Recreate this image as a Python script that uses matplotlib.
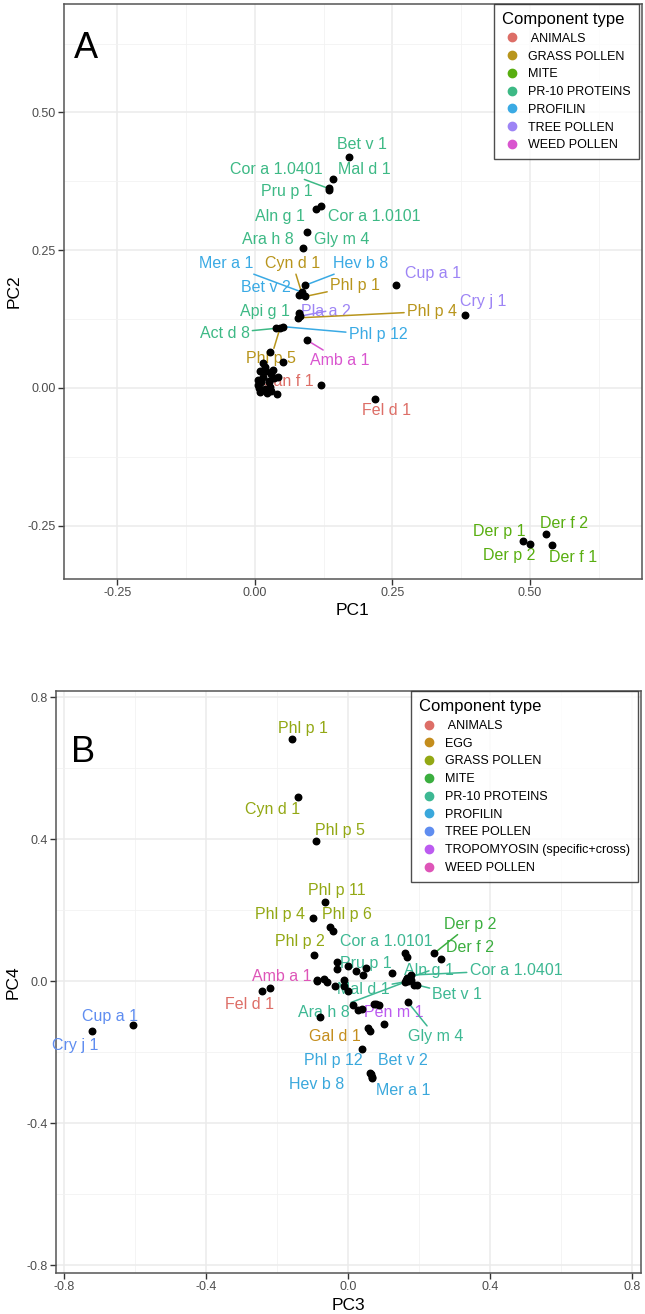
import matplotlib.pyplot as plt
from matplotlib.lines import Line2D

plt.rcParams['font.family'] = ['Liberation Sans', 'DejaVu Sans']

# ---------------- panel A data (PC1 / PC2) ----------------
a_names = ['Bet v 1', 'Mal d 1', 'Cor a 1.0401', 'Pru p 1', 'Aln g 1', 'Cor a 1.0101',
           'Ara h 8', 'Gly m 4', 'Mer a 1', 'Cyn d 1', 'Hev b 8', 'Bet v 2', 'Phl p 1',
           'Api g 1', 'Pla a 2', 'Phl p 4', 'Act d 8', 'Phl p 12', 'Phl p 5', 'Amb a 1',
           'Can f 1', 'Fel d 1', 'Cup a 1', 'Cry j 1', 'Der p 1', 'Der p 2', 'Der f 2', 'Der f 1']
a_types = ['PR-10 PROTEINS', 'PR-10 PROTEINS', 'PR-10 PROTEINS', 'PR-10 PROTEINS', 'PR-10 PROTEINS',
           'PR-10 PROTEINS', 'PR-10 PROTEINS', 'PR-10 PROTEINS', 'PROFILIN', 'GRASS POLLEN', 'PROFILIN',
           'PROFILIN', 'GRASS POLLEN', 'PR-10 PROTEINS', 'TREE POLLEN', 'GRASS POLLEN', 'PR-10 PROTEINS',
           'PROFILIN', 'GRASS POLLEN', 'WEED POLLEN', 'ANIMALS', 'ANIMALS', 'TREE POLLEN', 'TREE POLLEN',
           'MITE', 'MITE', 'MITE', 'MITE']
a_pc1 = [0.171, 0.142, 0.134, 0.134, 0.112, 0.120, 0.087, 0.094, 0.085, 0.086, 0.091, 0.080, 0.092,
         0.080, 0.082, 0.079, 0.038, 0.052, 0.046, 0.094, 0.025, 0.218, 0.256, 0.382,
         0.488, 0.501, 0.530, 0.541]
a_pc2 = [0.420, 0.380, 0.362, 0.359, 0.324, 0.330, 0.254, 0.283, 0.174, 0.170, 0.186, 0.168, 0.166,
         0.135, 0.130, 0.127, 0.108, 0.111, 0.109, 0.087, 0.010, -0.020, 0.186, 0.132,
         -0.279, -0.283, -0.266, -0.286]
# other (unlabelled) allergen components
a_other_pc1 = [0.028, 0.052, 0.018, 0.120, 0.010, 0.020, 0.015, 0.030, 0.005, 0.012, 0.025, 0.035,
               0.008, 0.018, 0.030, 0.040, 0.010, 0.022, 0.005, 0.028, 0.042, 0.033, 0.014]
a_other_pc2 = [0.065, 0.047, 0.038, 0.006, 0.030, 0.030, 0.020, 0.025, 0.015, 0.010, 0.012, 0.018,
               0.000, -0.003, -0.005, -0.012, -0.008, -0.010, 0.005, 0.002, 0.020, 0.032, 0.045]
a_types_order = ['ANIMALS', 'GRASS POLLEN', 'MITE', 'PR-10 PROTEINS', 'PROFILIN', 'TREE POLLEN', 'WEED POLLEN']
a_legend_labels = [' ANIMALS', 'GRASS POLLEN', 'MITE', 'PR-10 PROTEINS', 'PROFILIN', 'TREE POLLEN', 'WEED POLLEN']

# ---------------- panel B data (PC3 / PC4) ----------------
b_names = ['Phl p 1', 'Cyn d 1', 'Phl p 5', 'Phl p 11', 'Phl p 4', 'Phl p 6', 'Phl p 2',
           'Cor a 1.0101', 'Der p 2', 'Der f 2', 'Pru p 1', 'Aln g 1', 'Cor a 1.0401', 'Amb a 1',
           'Mal d 1', 'Bet v 1', 'Fel d 1', 'Ara h 8', 'Pen m 1', 'Gly m 4', 'Gal d 1',
           'Phl p 12', 'Bet v 2', 'Hev b 8', 'Mer a 1', 'Cup a 1', 'Cry j 1']
b_types = ['GRASS POLLEN'] * 7 + ['PR-10 PROTEINS', 'MITE', 'MITE', 'PR-10 PROTEINS', 'PR-10 PROTEINS',
           'PR-10 PROTEINS', 'WEED POLLEN', 'PR-10 PROTEINS', 'PR-10 PROTEINS', 'ANIMALS',
           'PR-10 PROTEINS', 'TROPOMYOSIN (specific+cross)', 'PR-10 PROTEINS', 'EGG',
           'PROFILIN', 'PROFILIN', 'PROFILIN', 'PROFILIN', 'TREE POLLEN', 'TREE POLLEN']
b_pc3 = [-0.158, -0.142, -0.092, -0.064, -0.099, -0.052, -0.097, 0.159, 0.242, 0.262, 0.049,
         0.167, 0.176, -0.088, 0.160, 0.195, -0.243, 0.176, 0.072, 0.169, 0.040,
         0.063, 0.068, 0.064, 0.068, -0.606, -0.722]
b_pc4 = [0.681, 0.519, 0.394, 0.222, 0.178, 0.153, 0.073, 0.078, 0.078, 0.061, 0.036,
         0.008, 0.017, 0.003, -0.002, -0.011, -0.028, 0.003, -0.063, -0.060, -0.190,
         -0.258, -0.270, -0.262, -0.272, -0.124, -0.141]
b_other_pc3 = [-0.042, 0.165, -0.069, -0.219, -0.032, 0.125, 0.164, -0.001, -0.032, 0.021, 0.041,
               -0.013, -0.038, -0.060, -0.087, 0.170, 0.186, 0.000, 0.015, 0.039, 0.079, 0.086,
               0.101, 0.055, 0.063, 0.027, -0.012, -0.080]
b_other_pc4 = [0.142, 0.068, 0.006, -0.019, 0.054, 0.023, 0.002, 0.042, 0.034, 0.029, 0.016,
               0.003, -0.014, -0.002, -0.001, -0.001, -0.011, -0.027, -0.067, -0.078, -0.063, -0.067,
               -0.120, -0.133, -0.140, -0.082, -0.013, -0.100]
b_types_order = ['ANIMALS', 'EGG', 'GRASS POLLEN', 'MITE', 'PR-10 PROTEINS', 'PROFILIN',
                 'TREE POLLEN', 'TROPOMYOSIN (specific+cross)', 'WEED POLLEN']
b_legend_labels = [' ANIMALS', 'EGG', 'GRASS POLLEN', 'MITE', 'PR-10 PROTEINS', 'PROFILIN',
                   'TREE POLLEN', 'TROPOMYOSIN (specific+cross)', 'WEED POLLEN']

a_colors = {'ANIMALS': '#DD6E67', 'GRASS POLLEN': '#B8951C', 'MITE': '#58AE10',
            'PR-10 PROTEINS': '#3DB985', 'PROFILIN': '#3AAAE4', 'TREE POLLEN': '#9D84F5',
            'WEED POLLEN': '#D955CF'}
b_colors = {'ANIMALS': '#DD6E67', 'EGG': '#C48D1C', 'GRASS POLLEN': '#93A814', 'MITE': '#3BAE3F',
            'PR-10 PROTEINS': '#3DB893', 'PROFILIN': '#3AA8DC', 'TREE POLLEN': '#5F8DF0',
            'TROPOMYOSIN (specific+cross)': '#BC5BF0', 'WEED POLLEN': '#DE55B8'}

# label placement (data coords) and whether a leader segment is drawn
a_label_pos = {'Bet v 1': (0.194, 0.441, 0), 'Mal d 1': (0.200, 0.397, 0),
               'Cor a 1.0401': (0.040, 0.397, 1), 'Pru p 1': (0.058, 0.356, 0),
               'Aln g 1': (0.046, 0.311, 0), 'Cor a 1.0101': (0.218, 0.311, 0),
               'Ara h 8': (0.024, 0.269, 0), 'Gly m 4': (0.158, 0.269, 0),
               'Mer a 1': (-0.052, 0.225, 1), 'Cyn d 1': (0.069, 0.225, 1),
               'Hev b 8': (0.193, 0.225, 1), 'Bet v 2': (0.021, 0.183, 0),
               'Phl p 1': (0.182, 0.185, 1), 'Api g 1': (0.018, 0.138, 0),
               'Pla a 2': (0.129, 0.139, 1), 'Phl p 4': (0.322, 0.139, 1),
               'Act d 8': (-0.055, 0.099, 1), 'Phl p 12': (0.224, 0.096, 1),
               'Phl p 5': (0.029, 0.053, 1), 'Amb a 1': (0.155, 0.050, 1),
               'Can f 1': (0.060, 0.011, 0), 'Fel d 1': (0.240, -0.042, 0),
               'Cup a 1': (0.324, 0.208, 0), 'Cry j 1': (0.415, 0.157, 0),
               'Der p 1': (0.444, -0.260, 0), 'Der p 2': (0.462, -0.305, 0),
               'Der f 2': (0.562, -0.246, 0), 'Der f 1': (0.579, -0.308, 0)}
b_label_pos = {'Phl p 1': (-0.127, 0.712, 0), 'Cyn d 1': (-0.212, 0.484, 0),
               'Phl p 5': (-0.022, 0.425, 0), 'Phl p 11': (-0.031, 0.254, 0),
               'Phl p 4': (-0.191, 0.188, 0), 'Phl p 6': (-0.003, 0.188, 0),
               'Phl p 2': (-0.135, 0.111, 0), 'Cor a 1.0101': (0.108, 0.111, 0),
               'Der p 2': (0.345, 0.160, 1), 'Der f 2': (0.345, 0.096, 0),
               'Pru p 1': (0.049, 0.050, 0), 'Aln g 1': (0.228, 0.029, 1),
               'Cor a 1.0401': (0.473, 0.031, 1), 'Amb a 1': (-0.186, 0.012, 0),
               'Mal d 1': (0.042, -0.023, 1), 'Bet v 1': (0.308, -0.039, 1),
               'Fel d 1': (-0.278, -0.065, 0), 'Ara h 8': (-0.069, -0.089, 1),
               'Pen m 1': (0.129, -0.089, 0), 'Gly m 4': (0.246, -0.155, 1),
               'Gal d 1': (-0.036, -0.157, 0), 'Phl p 12': (-0.041, -0.223, 0),
               'Bet v 2': (0.155, -0.223, 0), 'Hev b 8': (-0.090, -0.290, 0),
               'Mer a 1': (0.156, -0.307, 0), 'Cup a 1': (-0.671, -0.099, 0),
               'Cry j 1': (-0.770, -0.180, 0)}


def style_axes(ax, major, minor, lims, xlabel, ylabel):
    ax.set_xlim(lims[0])
    ax.set_ylim(lims[1])
    ax.set_xticks(major[0])
    ax.set_yticks(major[1])
    ax.set_xticks(minor[0], minor=True)
    ax.set_yticks(minor[1], minor=True)
    ax.tick_params(which='minor', length=0)
    ax.tick_params(which='major', length=4, width=1, color='#333333',
                   labelsize=9, labelcolor='#4D4D4D', pad=2)
    ax.grid(which='major', color='#EBEBEB', lw=1.1)
    ax.grid(which='minor', color='#F2F2F2', lw=0.6)
    ax.set_axisbelow(True)
    for s in ax.spines.values():
        s.set_color('#555555')
        s.set_linewidth(1.1)
    ax.set_xlabel(xlabel, fontsize=12.5, labelpad=3)
    ax.set_ylabel(ylabel, fontsize=12.5, labelpad=4)


def draw_labels(ax, names, types, xs, ys, pos, colors):
    for n, t, x, y in zip(names, types, xs, ys):
        lx, ly, seg = pos[n]
        c = colors[t]
        if seg:
            ax.annotate(n, xy=(x, y), xytext=(lx, ly), color=c, fontsize=11.5,
                        ha='center', va='center',
                        arrowprops=dict(arrowstyle='-', color=c, lw=1.1, shrinkA=0, shrinkB=2))
        else:
            ax.text(lx, ly, n, color=c, fontsize=11.5, ha='center', va='center')


def add_legend(ax, order, labels, colors):
    handles = [Line2D([], [], marker='o', ls='', color=colors[t], markersize=6) for t in order]
    leg = ax.legend(handles, labels, title='Component type', loc='upper right',
                    bbox_to_anchor=(0.995, 1.0), borderaxespad=0, fontsize=9,
                    title_fontsize=12, frameon=True, fancybox=False,
                    handletextpad=0.5, labelspacing=0.46, borderpad=0.65, handlelength=1.6)
    leg.get_frame().set_edgecolor('#222222')
    leg.get_frame().set_linewidth(1.0)
    leg._legend_box.align = 'left'


fig = plt.figure(figsize=(6.45, 13.14), dpi=100)

# ---------------- panel A ----------------
axA = fig.add_axes([0.0992, 0.5594, 0.8961, 0.4376])
style_axes(axA, ([-0.25, 0, 0.25, 0.5], [-0.25, 0, 0.25, 0.5]),
           ([-0.125, 0.125, 0.375, 0.625], [-0.125, 0.125, 0.375, 0.625]),
           ((-0.347, 0.704), (-0.347, 0.697)), 'PC1', 'PC2')
axA.set_xticklabels(['-0.25', '0.00', '0.25', '0.50'])
axA.set_yticklabels(['-0.25', '0.00', '0.25', '0.50'])
draw_labels(axA, a_names, a_types, a_pc1, a_pc2, a_label_pos, a_colors)
axA.scatter(a_other_pc1, a_other_pc2, s=22, color='black', zorder=3)
axA.scatter(a_pc1, a_pc2, s=22, color='black', zorder=3)
add_legend(axA, a_types_order, a_legend_labels, a_colors)
axA.text(0.0165, 0.953, 'A', transform=axA.transAxes, fontsize=26, va='top', ha='left')

# ---------------- panel B ----------------
axB = fig.add_axes([0.0868, 0.0312, 0.907, 0.4429])
style_axes(axB, ([-0.8, -0.4, 0, 0.4, 0.8], [-0.8, -0.4, 0, 0.4, 0.8]),
           ([-0.6, -0.2, 0.2, 0.6], [-0.6, -0.2, 0.2, 0.6]),
           ((-0.824, 0.826), (-0.822, 0.817)), 'PC3', 'PC4')
axB.set_xticklabels(['-0.8', '-0.4', '0.0', '0.4', '0.8'])
axB.set_yticklabels(['-0.8', '-0.4', '0.0', '0.4', '0.8'])
draw_labels(axB, b_names, b_types, b_pc3, b_pc4, b_label_pos, b_colors)
axB.scatter(b_other_pc3, b_other_pc4, s=22, color='black', zorder=3)
axB.scatter(b_pc3, b_pc4, s=22, color='black', zorder=3)
add_legend(axB, b_types_order, b_legend_labels, b_colors)
axB.text(0.025, 0.925, 'B', transform=axB.transAxes, fontsize=26, va='top', ha='left')

fig.savefig('out.png', dpi=100)
